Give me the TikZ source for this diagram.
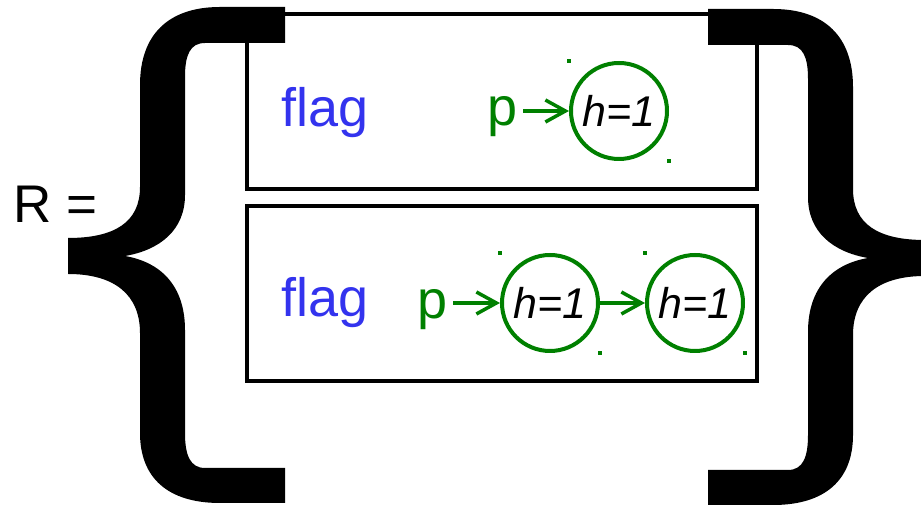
\documentclass[tikz,border=0pt]{standalone}
\usepackage{fontspec}
\setmainfont{Liberation Sans}
\usepackage{tikz}
\usetikzlibrary{positioning, arrows.meta, calc}

\definecolor{flagblue}{RGB}{51,51,238}
\definecolor{ptrgreen}{RGB}{0,128,0}

% big curly brace, pixel units, y down
\newcommand{\bracepath}{(285,7) -- (220,7) .. controls (168,7) and (140,35) .. (140,85)
  -- (140,187) .. controls (140,222) and (115,238) .. (68,238)
  -- (68,274) .. controls (115,274) and (140,295) .. (140,333)
  -- (140,433) .. controls (140,478) and (168,503) .. (220,503)
  -- (285,503) -- (285,468) -- (205,468) .. controls (190,468) and (185,455) .. (185,433)
  -- (185,330) .. controls (185,285) and (160,262) .. (125,256)
  .. controls (160,250) and (185,230) .. (185,195)
  -- (185,77) .. controls (185,55) and (190,43) .. (205,43) -- (285,43) -- cycle}

\begin{document}
\begin{tikzpicture}[
    x=0.5pt, y=-0.5pt,
    node distance=22.5pt,
    setbox/.style={draw, rectangle, line width=2pt, minimum width=255pt, minimum height=87.6pt, inner sep=0pt},
    flaglabel/.style={text=flagblue, font=\fontsize{27}{32}\selectfont},
    ptrlabel/.style={text=ptrgreen, font=\fontsize{27}{32}\selectfont, inner sep=2.5pt},
    hnode/.style={draw=ptrgreen, circle, line width=2pt, minimum size=48pt, inner sep=0pt, font=\fontsize{21.5}{25}\selectfont\itshape},
    arrow/.style={ptrgreen, line width=1.75pt, -{Straight Barb[length=10pt, width=11pt]}}
]
\useasboundingbox (0,0) rectangle (921,506);

\node[anchor=base west, inner sep=0pt, font=\fontsize{26.5}{30}\selectfont] (rlabel) at (13,223) {R =};

\node[setbox] (setA) at (502,101.7) {};
\node[setbox] (setB) at (502,293.4) {};

\node[flaglabel] (flagA) at (325,113) {flag};
\node[flaglabel] (flagB) at (325,303) {flag};

\node[hnode] (hA) at (619,111) {h=1};
\node[ptrlabel] (pA) at (503,117) {p};

\node[hnode] (hB1) at (550,303) {h=1};
\node[hnode, right=of hB1] (hB2) {h=1};
\node[ptrlabel] (pB) at (433,310) {p};

\draw[arrow] (pA.east |- hA) -- (hA.west);
\draw[arrow] (pB.east |- hB1) -- (hB1.west);
\draw[arrow] (hB1) -- (hB2);

\foreach \c in {hA,hB1,hB2} {
  \fill[ptrgreen] (\c.west |- \c.north) +(-2,-2) rectangle +(2,2);
  \fill[ptrgreen] (\c.east |- \c.south) +(-2,-2) rectangle +(2,2);
}

\fill \bracepath;
\fill[shift={(993,2)}, xscale=-1] \bracepath;
\end{tikzpicture}
\end{document}
